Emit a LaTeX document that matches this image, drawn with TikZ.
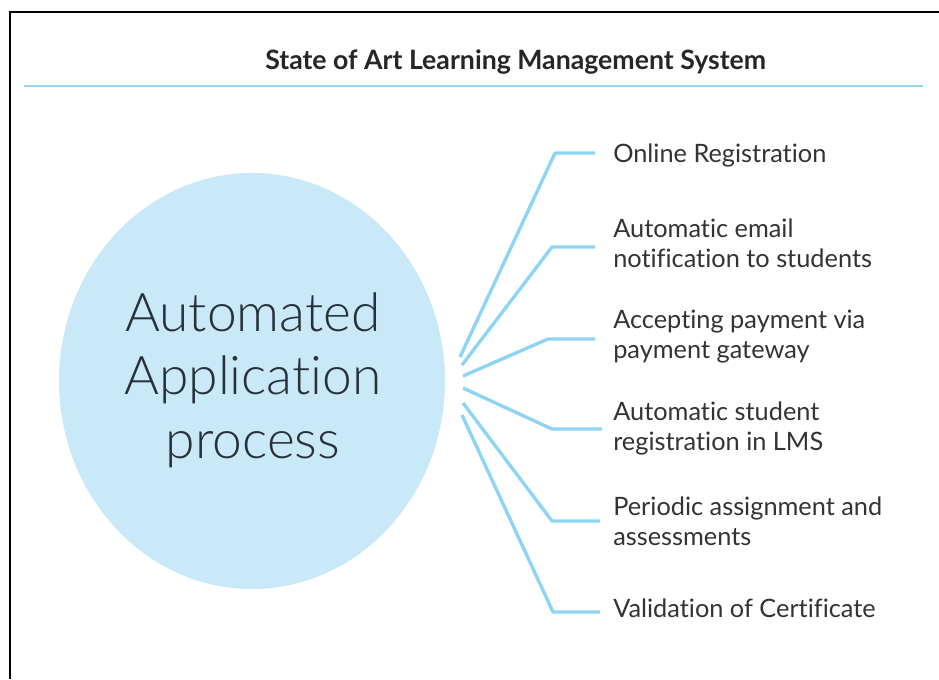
\documentclass[tikz,border=0pt]{standalone}
\usepackage{fontspec}
\setmainfont{Lato}[Ligatures=NoCommon]
\newfontfamily\latolight{Lato Light}[Ligatures=NoCommon]
\usetikzlibrary{shapes.geometric}
\definecolor{linkblue}{HTML}{8ED4F5}
\definecolor{bubble}{HTML}{C9E9F9}
\definecolor{rulecol}{HTML}{96D6F5}
\definecolor{ink}{HTML}{333333}
\definecolor{hubink}{HTML}{25313A}
\begin{document}
\begin{tikzpicture}[x=0.75pt,y=-0.75pt,
  link/.style={draw=linkblue, line width=2.5pt, line join=round},
  item/.style={anchor=base west, inner sep=0pt, align=left, text=ink,
    font=\fontsize{19}{22.5}\selectfont},
  hubstyle/.style={ellipse, fill=bubble, inner sep=0pt,
    minimum width=289.5pt, minimum height=312pt},
  hubtext/.style={inner sep=0pt, align=center, text=hubink,
    font=\latolight\fontsize{40}{47.5}\selectfont},
  titlestyle/.style={anchor=base west, inner sep=0pt, text=black!85,
    font=\bfseries\fontsize{20}{24}\selectfont}]
\useasboundingbox (0,0) rectangle (939,679);
\fill[white] (0,0) rectangle (939,679);
% frame
\draw[line width=1.2pt] (10,679) -- (10,12) -- (939,12);
% title
\node[titlestyle] (title) at (265,69) {State of Art Learning Management System};
\draw[draw=rulecol, line width=2pt] (24,86) -- (923,86);
% hub
\node[hubstyle] (hub) at (252,381) {};
\node[hubtext] (hubt) at (253,380) {Automated\\Application\\process};
% items (base anchor = baseline of last line)
\node[item] (i1) at (613,162) {Online Registration};
\node[item] (i2) at (613,267) {Automatic email\\notification to students};
\node[item] (i3) at (613,358) {Accepting payment via\\payment gateway};
\node[item] (i4) at (613,450) {Automatic student\\registration in LMS};
\node[item] (i5) at (613,545) {Periodic assignment and\\assessments};
\node[item] (i6) at (613,617) {Validation of Certificate};
% connector points
\coordinate (s1) at (460,357); \coordinate (e1) at (555,153); \coordinate (t1) at (595,153);
\coordinate (s2) at (462,365); \coordinate (e2) at (552,247); \coordinate (t2) at (595,247);
\coordinate (s3) at (463,376); \coordinate (e3) at (548,339); \coordinate (t3) at (595,339);
\coordinate (s4) at (463,388); \coordinate (e4) at (552,429); \coordinate (t4) at (602,429);
\coordinate (s5) at (463,403); \coordinate (e5) at (552,521); \coordinate (t5) at (600,521);
\coordinate (s6) at (462,415); \coordinate (e6) at (553,612); \coordinate (t6) at (600,612);
\foreach \k in {1,...,6}{\draw[link] (s\k) -- (e\k) -- (t\k);}
\end{tikzpicture}
\end{document}
